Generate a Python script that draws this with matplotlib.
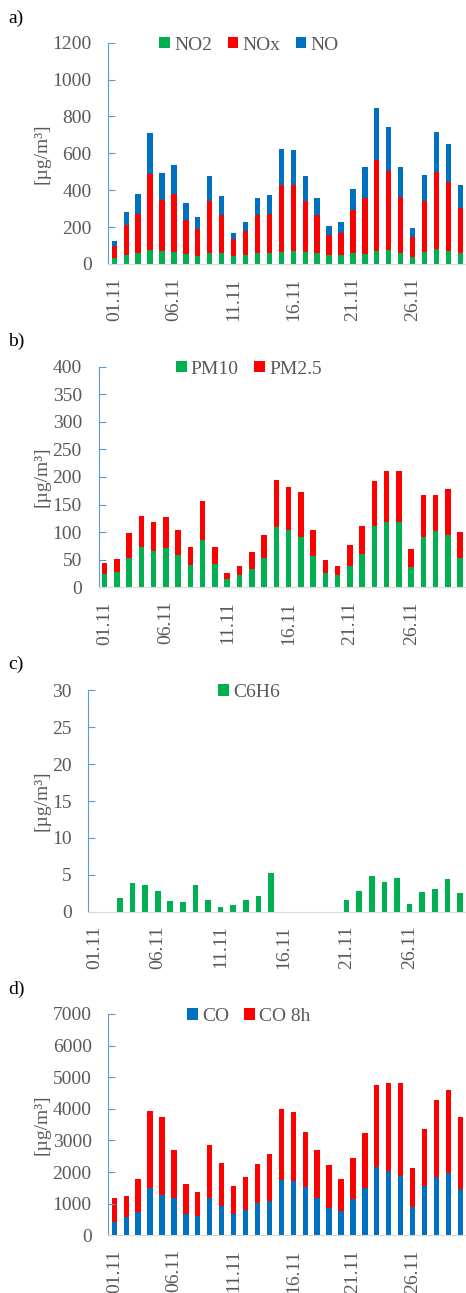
import matplotlib
matplotlib.use("Agg")
import matplotlib.pyplot as plt

plt.rcParams['font.family'] = ['Liberation Serif', 'DejaVu Serif']

# ---- data (daily values, November) ----
days = list(range(1, 31))
tick_days = [1, 6, 11, 16, 21, 26]
tick_labels = ["01.11", "06.11", "11.11", "16.11", "21.11", "26.11"]

no2 = [31, 47, 58, 74, 69, 67, 54, 43, 58, 58, 43, 47, 58, 58, 67,
       70, 63, 60, 47, 47, 58, 52, 70, 74, 60, 40, 67, 80, 70, 58]
nox = [67, 163, 213, 412, 280, 311, 186, 149, 282, 209, 93, 130, 206, 215, 360,
       357, 277, 204, 112, 123, 233, 308, 496, 432, 305, 106, 276, 421, 375, 244]
no = [25, 72, 109, 222, 144, 157, 91, 65, 139, 102, 34, 53, 94, 101, 195,
      191, 139, 94, 49, 56, 116, 168, 278, 237, 159, 47, 140, 217, 204, 125]

pm10 = [24, 28, 53, 73, 65, 71, 59, 41, 86, 42, 15, 22, 33, 53, 109,
        104, 92, 57, 26, 22, 39, 60, 112, 119, 118, 37, 92, 102, 95, 53]
pm25 = [20, 23, 45, 56, 53, 56, 45, 32, 70, 31, 11, 17, 31, 41, 85,
        77, 80, 47, 23, 17, 37, 51, 81, 92, 92, 32, 75, 65, 83, 48]

c6h6 = [0, 0, 1.85, 3.9, 3.6, 2.85, 1.45, 1.3, 3.6, 1.6, 0.7, 0.85, 1.6, 2.1, 5.25,
        0, 0, 0, 0, 0, 1.6, 2.8, 4.8, 4.05, 4.6, 1.1, 2.7, 3.05, 4.4, 2.6]

co = [432, 569, 738, 1486, 1286, 1191, 685, 601, 1191, 928, 685, 801, 1023, 1075, 1760,
      1718, 1518, 1191, 864, 780, 1139, 1497, 2151, 2024, 1876, 907, 1550, 1834, 1971, 1455]
co8h = [749, 675, 1054, 2446, 2467, 1508, 928, 759, 1666, 1370, 875, 1033, 1233, 1508, 2235,
        2193, 1739, 1508, 1350, 1002, 1296, 1729, 2593, 2783, 2931, 1222, 1813, 2446, 2615, 2298]

GREEN = "#00B050"
RED = "#FF0000"
BLUE = "#0070C0"
GRAY = "#595959"
AXIS_BLUE = "#5B9BD5"
W = 0.45
FS = 14

fig = plt.figure(figsize=(4.66, 12.93), dpi=100)
W_PX, H_PX = 466, 1293


def make_axes(left_px, top_px, bottom_px):
    return fig.add_axes([left_px / W_PX, 1 - bottom_px / H_PX,
                         (466.3 - left_px) / W_PX, (bottom_px - top_px) / H_PX])


def style(ax, ymax, step, left_px, leg_y_px):
    ax.set_xlim(0.5, 30.5)
    ax.set_ylim(0, ymax)
    ax.set_yticks(range(0, ymax + 1, step))
    ax.set_xticks(tick_days)
    ax.set_xticklabels(tick_labels, rotation=90)
    for s in ["top", "right"]:
        ax.spines[s].set_visible(False)
    ax.spines["left"].set_color(AXIS_BLUE)
    ax.spines["bottom"].set_color("#D9D9D9")
    ax.tick_params(axis="y", direction="in", length=5, color=AXIS_BLUE,
                   labelsize=FS, labelcolor=GRAY, pad=12)
    ax.tick_params(axis="x", length=0, labelsize=FS, labelcolor=GRAY, pad=10)
    ax.set_ylabel("[µg/m³]", fontsize=FS, color=GRAY)
    ax.yaxis.set_label_coords((50 - left_px) / (466.3 - left_px), 0.5)
    ax.legend(loc="center", bbox_to_anchor=(0.534, 1 - leg_y_px / H_PX),
              bbox_transform=fig.transFigure, ncol=3, frameon=False,
              fontsize=FS, labelcolor=GRAY, handlelength=0.55, handleheight=0.55,
              handletextpad=0.2, columnspacing=0.8, borderpad=0)


# ---- a) nitrogen oxides ----
ax1 = make_axes(108.3, 42.7, 264)
b1 = [a + b for a, b in zip(no2, nox)]
ax1.bar(days, no2, W, color=GREEN, label="NO2")
ax1.bar(days, nox, W, bottom=no2, color=RED, label="NOx")
ax1.bar(days, no, W, bottom=b1, color=BLUE, label="NO")
style(ax1, 1200, 200, 108.3, 45)

# ---- b) particulate matter ----
ax2 = make_axes(98.5, 366.7, 587.3)
ax2.bar(days, pm10, W, color=GREEN, label="PM10")
ax2.bar(days, pm25, W, bottom=pm10, color=RED, label="PM2.5")
style(ax2, 400, 50, 98.5, 369)

# ---- c) benzene ----
ax3 = make_axes(88.4, 690.3, 911.7)
ax3.bar(days, c6h6, W, color=GREEN, label="C6H6")
style(ax3, 30, 5, 88.4, 692.7)

# ---- d) carbon monoxide ----
ax4 = make_axes(108.3, 1014, 1235.3)
ax4.bar(days, co, W, color=BLUE, label="CO")
ax4.bar(days, co8h, W, bottom=co, color=RED, label="CO 8h")
style(ax4, 7000, 1000, 108.3, 1016.7)

for lab, y in zip(["a)", "b)", "c)", "d)"], [18, 341, 664, 989]):
    fig.text(8 / W_PX, 1 - y / H_PX, lab, fontsize=FS, va="center", ha="left")

fig.savefig("out.png", dpi=100)
plt.close(fig)
